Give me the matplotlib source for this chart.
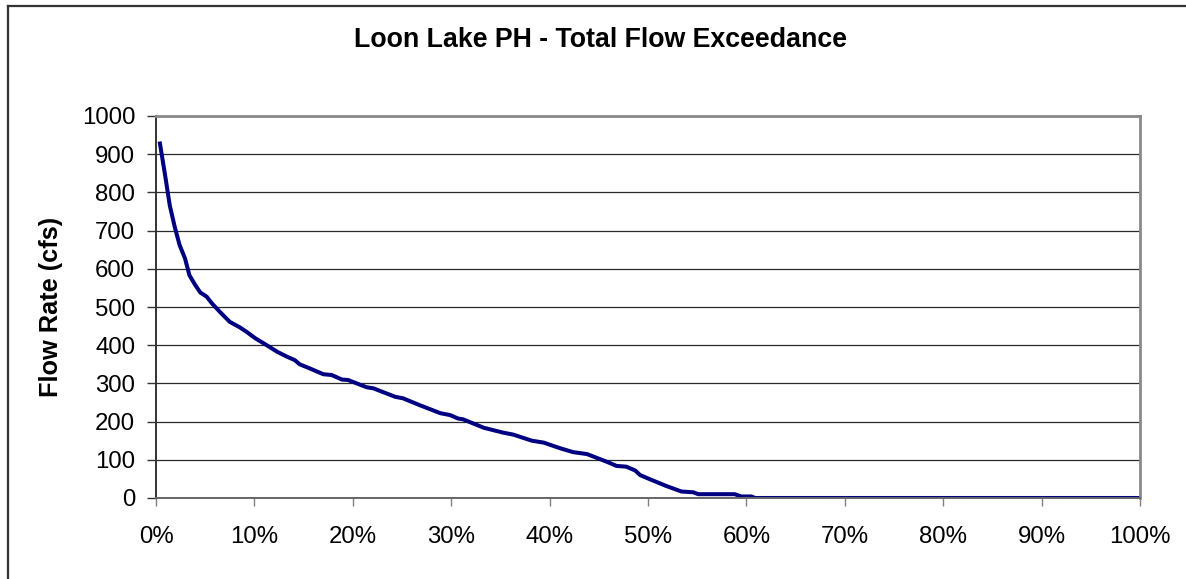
import matplotlib
matplotlib.use("Agg")
import matplotlib.pyplot as plt
from matplotlib.lines import Line2D
from matplotlib.ticker import FuncFormatter, MultipleLocator

plt.rcParams['font.family'] = ['Liberation Sans', 'DejaVu Sans']

# Exceedance percentage (%) and flow rate (cfs)
exceedance_pct = [0.4, 0.9, 1.4, 1.9, 2.4, 2.95, 3.4, 4.0, 4.5, 5.15, 5.7, 6.5, 7.5,
                  8.5, 9.2, 10.1, 11.25, 12.3, 13.3, 14.1, 14.6, 15.65, 17.0, 17.85,
                  18.9, 19.5, 21.4, 22.1, 24.3, 25.1, 26.8, 28.9, 29.9, 30.7, 31.2,
                  33.3, 33.9, 35.3, 36.3, 38.2, 39.4, 41.1, 42.4, 43.8, 45.8, 46.8,
                  47.8, 48.7, 49.2, 50.2, 51.9, 53.4, 54.6, 55.1, 58.8, 59.5, 60.5,
                  60.9, 100.0]
flow_cfs = [928, 849, 766, 710, 662, 627, 583, 557, 538, 527, 509, 487, 461,
            447, 435, 418, 400, 383, 370, 361, 350, 339, 324, 322,
            310, 309, 290, 287, 265, 261, 243, 222, 217, 208, 206,
            184, 180, 171, 166, 150, 145, 130, 120, 115, 95, 84,
            82, 72, 60, 49, 31, 17, 15, 10, 10, 4, 4,
            0, 0]

title = "Loon Lake PH - Total Flow Exceedance"
ylabel = "Flow Rate (cfs)"

W, H = 1186, 579
fig = plt.figure(figsize=(W / 100, H / 100), dpi=100)
fig.patch.set_facecolor('white')

L, R, T, B = 156, 1140, 116, 498
ax = fig.add_axes([L / W, (H - B) / H, (R - L) / W, (B - T) / H])

ax.plot(exceedance_pct, flow_cfs, color='#000080', lw=2.9, solid_joinstyle='round')

ax.set_xlim(0, 100)
ax.set_ylim(0, 1000)
ax.xaxis.set_major_locator(MultipleLocator(10))
ax.yaxis.set_major_locator(MultipleLocator(100))
ax.xaxis.set_major_formatter(FuncFormatter(lambda v, p: f"{int(round(v))}%"))
ax.yaxis.set_major_formatter(FuncFormatter(lambda v, p: f"{int(round(v))}"))

ax.grid(axis='y', color='#2a2a2a', lw=0.9)
ax.set_axisbelow(True)

for s in ['top', 'right']:
    ax.spines[s].set_color('#8a8a8a')
    ax.spines[s].set_linewidth(2.0)
ax.spines['left'].set_color('#333333')
ax.spines['left'].set_linewidth(1.4)
ax.spines['bottom'].set_color('#666666')
ax.spines['bottom'].set_linewidth(1.4)

ax.tick_params(axis='y', direction='out', length=6.5, width=1, color='#333333',
               labelsize=17.3, pad=8.5)
ax.tick_params(axis='x', direction='out', length=6, width=1, color='#808080',
               labelsize=17.3, pad=14)

fig.text(601 / W, 1 - 47.3 / H, title, ha='center', va='baseline',
         fontsize=19.3, fontweight='bold')
fig.text(51 / W, 1 - 306.5 / H, ylabel, ha='center', va='center', rotation=90,
         fontsize=18.3, fontweight='bold')

# outer chart frame (partially visible)
fig.add_artist(Line2D([7.5 / W, 1.0], [1 - 5.7 / H, 1 - 5.7 / H],
                      transform=fig.transFigure, color='#333333', lw=1.6))
fig.add_artist(Line2D([7.5 / W, 7.5 / W], [0.0, 1 - 5.7 / H],
                      transform=fig.transFigure, color='#333333', lw=1.6))

fig.savefig('out.png', dpi=100)
